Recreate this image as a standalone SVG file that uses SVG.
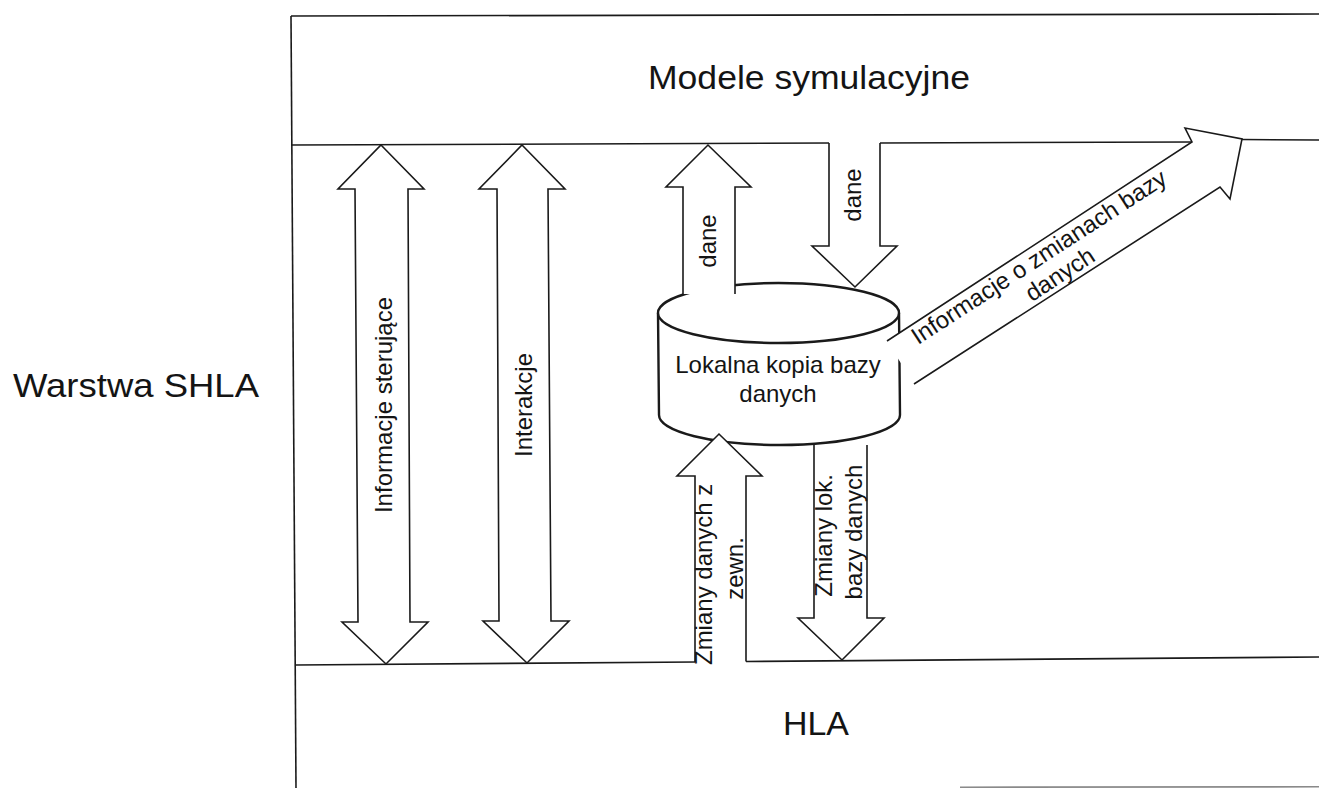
<svg xmlns="http://www.w3.org/2000/svg" width="1319" height="788" viewBox="0 0 1319 788">
  <style>
    .frame { fill: none; stroke: #1a1a1a; stroke-width: 1.6; }
    .arrow { fill: #ffffff; stroke: #1a1a1a; stroke-width: 1.6; stroke-linejoin: miter; }
    .db { fill: #ffffff; stroke: #1a1a1a; stroke-width: 2.4; }
    .lbl { font-family: "Liberation Sans", Arial, sans-serif; font-size: 24px; fill: #141414; text-anchor: middle; }
    .big { font-family: "Liberation Sans", Arial, sans-serif; font-size: 33px; fill: #141414; }
  </style>

  <rect x="0" y="0" width="1319" height="788" fill="#ffffff"/>

  <!-- layer frame: outer border and the two layer separators -->
  <g id="frame">
    <line class="frame" x1="291" y1="16" x2="1319" y2="14"/>
    <line class="frame" x1="291" y1="16" x2="296" y2="788"/>
    <!-- separator under "Modele symulacyjne" (broken where arrows pass) -->
    <line class="frame" x1="291" y1="145" x2="829" y2="143"/>
    <line class="frame" x1="880" y1="143" x2="1192" y2="142"/>
    <line class="frame" x1="1242" y1="139.5" x2="1319" y2="140"/>
    <!-- separator above "HLA" -->
    <line class="frame" x1="296" y1="665" x2="695" y2="662"/>
    <line class="frame" x1="746" y1="661.5" x2="1319" y2="657"/>
    <!-- bottom edge, partly cut off -->
    <line x1="960" y1="787.2" x2="1319" y2="786.8" stroke="#8a8a8a" stroke-width="1.6"/>
  </g>

  <g id="modele-symulacyjne">
    <text class="big" x="648" y="89" textLength="322" lengthAdjust="spacingAndGlyphs">Modele symulacyjne</text>
  </g>

  <g id="warstwa-shla">
    <text class="big" x="13" y="397" textLength="246" lengthAdjust="spacingAndGlyphs">Warstwa SHLA</text>
  </g>

  <g id="hla">
    <text class="big" x="783" y="735" textLength="66" lengthAdjust="spacingAndGlyphs">HLA</text>
  </g>

  <!-- local database copy (cylinder) -->
  <g id="lokalna-kopia">
    <path class="db" d="M658,313 L659,415 A120.5,30 0 0 0 900,415 L899,313 A120.5,30 0 0 0 658,313 Z"/>
    <path class="db" fill="none" d="M658,313 A120.5,30 0 0 0 899,313"/>
    <text class="lbl" x="778" y="372.5">Lokalna kopia bazy</text>
    <text class="lbl" x="778" y="401.5">danych</text>
  </g>

  <!-- block arrows; open ends are left unstroked -->
  <g id="connectors">
    <g id="informacje-sterujace">
      <path class="arrow" d="M381,145 L424,189 L408,189 L410,622 L428,622 L386,664 L342,622 L358,622 L355,189 L338,189 Z"/>
      <text class="lbl" transform="translate(392,405) rotate(-90)">Informacje sterujące</text>
    </g>
    <g id="interakcje">
      <path class="arrow" d="M522,145 L565,189 L548,189 L551,621 L569,621 L527,663 L483,621 L499,621 L497,189 L479,189 Z"/>
      <text class="lbl" transform="translate(532,405) rotate(-90)">Interakcje</text>
    </g>
    <g id="dane-up">
      <path class="arrow" d="M735,294 L735,187 L751,187 L708,145 L666,187 L683,187 L683,294"/>
      <text class="lbl" transform="translate(716,241) rotate(-90)">dane</text>
    </g>
    <g id="dane-down">
      <path class="arrow" d="M829,143 L829,246 L812,246 L855,287 L897,246 L880,246 L880,143"/>
      <text class="lbl" transform="translate(861,195) rotate(-90)">dane</text>
    </g>
    <g id="zmiany-z-zewn">
      <path class="arrow" d="M695,662 L695,476 L677,476 L719,434 L762,476 L746,476 L746,661.5"/>
      <text class="lbl" transform="translate(712,571) rotate(-90)">
        <tspan x="0" y="0">Zmiany danych z</tspan>
        <tspan x="2.5" y="31">zewn.</tspan>
      </text>
    </g>
    <g id="zmiany-lok">
      <path class="arrow" d="M814,445 L814,618 L798,618 L842,660 L884,618 L867,618 L867,445"/>
      <text class="lbl" transform="translate(832,532) rotate(-90)">
        <tspan x="0" y="0">Zmiany lok.</tspan>
        <tspan x="0" y="30">bazy danych</tspan>
      </text>
    </g>
    <g id="informacje-o-zmianach">
      <path class="arrow" d="M887,341 L1192,142 L1185,128 L1242,139 L1230,199 L1220,187 L914,384"/>
      <text class="lbl" transform="translate(1046,262) rotate(-33)">
        <tspan x="0" y="0">Informacje o zmianach bazy</tspan>
        <tspan x="5" y="26">danych</tspan>
      </text>
    </g>
  </g>
</svg>
